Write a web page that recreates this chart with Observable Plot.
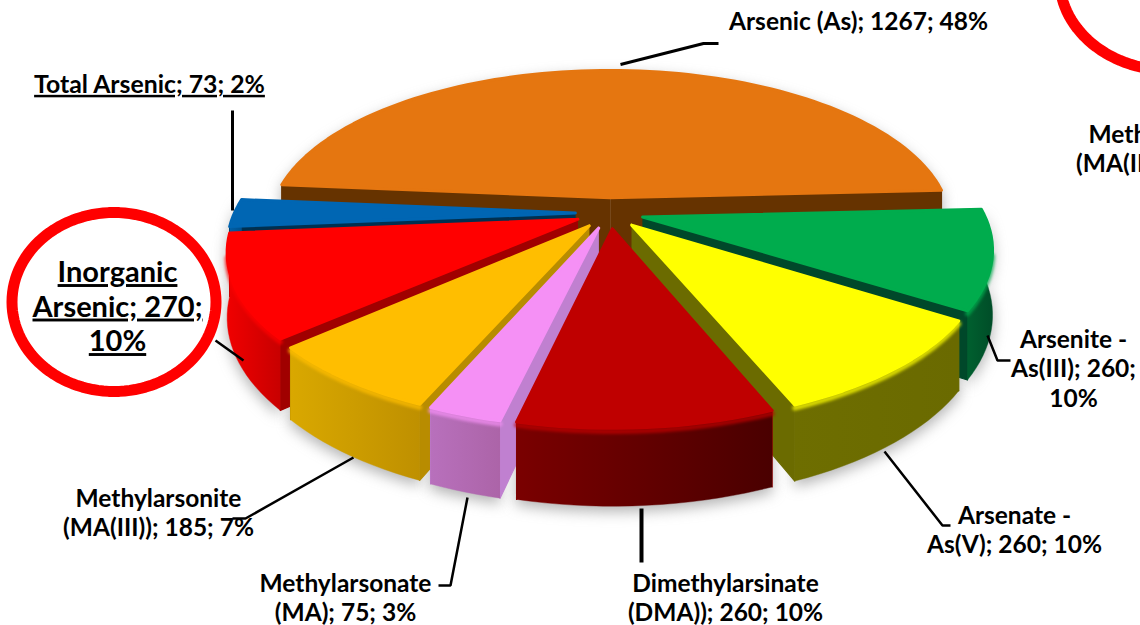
<!DOCTYPE html>
<html><head><meta charset="utf-8">
<script src="https://cdn.jsdelivr.net/npm/d3@7"></script>
<script src="https://cdn.jsdelivr.net/npm/@observablehq/plot@0.6"></script>
<style>html,body{margin:0;padding:0;background:#fff;overflow:hidden}</style>
</head><body><div id="chart"></div>
<script>
// ---- data
const categories = ["Arsenic (As)","Arsenite - As(III)","Arsenate - As(V)","Dimethylarsinate (DMA))","Methylarsonate (MA)","Methylarsonite (MA(III))","Inorganic Arsenic","Total Arsenic"];
const counts = [1267,260,260,260,75,185,270,73];
const percents = [48,10,10,10,3,7,10,2];

// ---- styles
const topColors  = ["#E57610","#00AC4D","#FFFF00","#BF0000","#F590F5","#FFBE00","#FF0000","#0066B3"];
const edgeColors = ["#663300","#00482A","#6B6B00","#8A0000","#C080D0","#B88C00","#A00000","#003050"];
const wallStops  = [["#663300","#663300"],["#00602F","#004D28"],["#6E6E00","#6A6A00"],["#7A0000","#4A0000"],["#B870BC","#AC64A8"],["#D9A800","#BF9000"],["#F00000","#C80000"],["#0060A8","#00508C"]];
const paintOrder = [0,7,1,6,2,5,4,3];

// ---- projection of the tilted pie
const view = {cx:609, cy:212.5, rx:341, ry:156, tilt:0.185, pull:0.1, depth:62, startDeg:-85};
const project = (X,Y,z) => { const p = 1/(1 - view.tilt*Y); return {x:view.cx+view.rx*X*p, y:view.cy+(view.ry*Y+z)*p}; };

const pie = d3.pie().sort(null).startAngle(view.startDeg*Math.PI/180).endAngle((view.startDeg+360)*Math.PI/180)(counts);
const slices = pie.map((a,i)=>{
  const mid=(a.startAngle+a.endAngle)/2, ox=view.pull*Math.sin(mid), oy=-view.pull*Math.cos(mid);
  const n=Math.max(4,Math.ceil((a.endAngle-a.startAngle)/(Math.PI/90)));
  const angs=d3.range(n+1).map(j=>a.startAngle+(a.endAngle-a.startAngle)*j/n);
  const at=(t,z)=>project(ox+Math.sin(t),oy-Math.cos(t),z);
  const apex=z=>project(ox,oy,z);
  return {i,
    top:[apex(0),...angs.map(t=>at(t,0)),apex(0)],
    wallA:[apex(0),at(a.startAngle,0),at(a.startAngle,view.depth),apex(view.depth)],
    wallB:[apex(0),at(a.endAngle,0),at(a.endAngle,view.depth),apex(view.depth)],
    outer:[...angs.map(t=>at(t,0)),...angs.slice().reverse().map(t=>at(t,view.depth))],
    rim:angs.filter(t=>Math.cos(t)<-0.2).map(t=>at(t,2.5))
  };
});

// ---- annotation layout (y = centre of the first text line)
const labels = [
 {text:"Arsenic (As); 1267; 48%", x:858,y:22},
 {text:"Methylarsonite\n(MA(III)); 185; 7%", x:1171,y:135},
 {text:"Arsenite -\nAs(III); 260;\n10%", x:1073,y:340},
 {text:"Arsenate -\nAs(V); 260; 10%", x:1014,y:516},
 {text:"Dimethylarsinate\n(DMA)); 260; 10%", x:725,y:584},
 {text:"Methylarsonate\n(MA); 75; 3%", x:345,y:584},
 {text:"Methylarsonite\n(MA(III)); 185; 7%", x:158,y:499}
];
const underlined = [
 {text:"Total Arsenic; 73; 2%", x:149,y:85, size:24.8, bar:"2px"},
 {text:"Inorganic\nArsenic; 270;\n10%", x:117,y:273, size:29, bar:"3px"}
];
const leaders = [
 {w:3,pts:[[620,64],[703,43],[718,43]]},
 {w:3,pts:[[232,110],[232,210]]},
 {w:2.5,pts:[[215,340],[243,360]]},
 {w:2.5,pts:[[353,457],[245,518],[232,518]]},
 {w:2.5,pts:[[467,497],[450,585],[438,585]]},
 {w:4,pts:[[641,508],[641,562]]},
 {w:2.5,pts:[[884,451],[942,525],[950,525]]},
 {w:2.5,pts:[[987,335],[997,360],[1010,360]]}
];
const rings = [{cx:113.5,cy:301.5,rx:102,ry:89.5},{cx:1170,cy:-22,rx:111,ry:92}];

const ringPts = r => d3.range(0,361,3).map(d=>({x:r.cx+r.rx*Math.cos(d*Math.PI/180),y:r.cy+r.ry*Math.sin(d*Math.PI/180)}));
const face = (pts,fill,extra={}) => Plot.line(pts,{x:"x",y:"y",fill,stroke:fill,strokeWidth:1.2,...extra});

const marks = [
  // gradient definitions
  () => { const s=d3.create("svg:g"), defs=s.append("defs");
    wallStops.forEach((st,i)=>{const g=defs.append("linearGradient").attr("id","wall"+i);
      g.append("stop").attr("offset","0%").attr("stop-color",st[0]);
      g.append("stop").attr("offset","100%").attr("stop-color",st[1]);});
    return s.node(); },
  // soft shadow
  ...paintOrder.map(i=>face(slices[i].outer.map(p=>({x:p.x,y:p.y+5})),"#777",{imageFilter:"blur(7px)",opacity:0.55}))
];
for (const i of paintOrder) {
  const s=slices[i];
  marks.push(face(s.wallA,edgeColors[i]), face(s.wallB,edgeColors[i]), face(s.outer,`url(#wall${i})`,{strokeWidth:0.4}));
  if (s.rim.length) marks.push(Plot.line(s.rim,{x:"x",y:"y",stroke:topColors[i],strokeWidth:5,opacity:0.75,imageFilter:"blur(1.5px)"}));
  marks.push(Plot.line(s.top,{x:"x",y:"y",fill:topColors[i],stroke:topColors[i],strokeWidth:3,strokeLinejoin:"round"}));
}
for (const l of leaders) marks.push(Plot.line(l.pts,{x:d=>d[0],y:d=>d[1],stroke:"#000",strokeWidth:l.w,strokeLinejoin:"miter",strokeLinecap:"butt"}));
for (const r of rings) marks.push(Plot.line(ringPts(r),{x:"x",y:"y",stroke:"#FF0000",strokeWidth:11}));
const font="Lato", labelSize=24.5;
marks.push(Plot.text(labels,{x:"x",y:"y",text:"text",fontFamily:font,fontWeight:700,fontSize:labelSize,lineHeight:1.2,textAnchor:"middle",lineAnchor:"top",dy:-labelSize*0.55,fill:"#000"}));
for (const u of underlined) marks.push(Plot.text([u],{x:"x",y:"y",text:"text",fontFamily:font,fontWeight:700,fontSize:u.size,lineHeight:1.19,textAnchor:"middle",lineAnchor:"top",dy:-u.size*0.55,fill:"#000",
  render(index,scales,values,dim,ctx,next){const g=next(index,scales,values,dim,ctx);d3.select(g).selectAll("text").style("text-decoration","underline").style("text-decoration-thickness",u.bar).style("text-decoration-skip-ink","none");return g;}}));

document.getElementById("chart").append(Plot.plot({
  width:1140,height:625,margin:0,
  x:{domain:[0,1140],range:[0,1140],axis:null},
  y:{domain:[0,625],range:[0,625],axis:null},
  style:{overflow:"hidden",background:"#fff"},
  marks
}));
</script></body></html>
